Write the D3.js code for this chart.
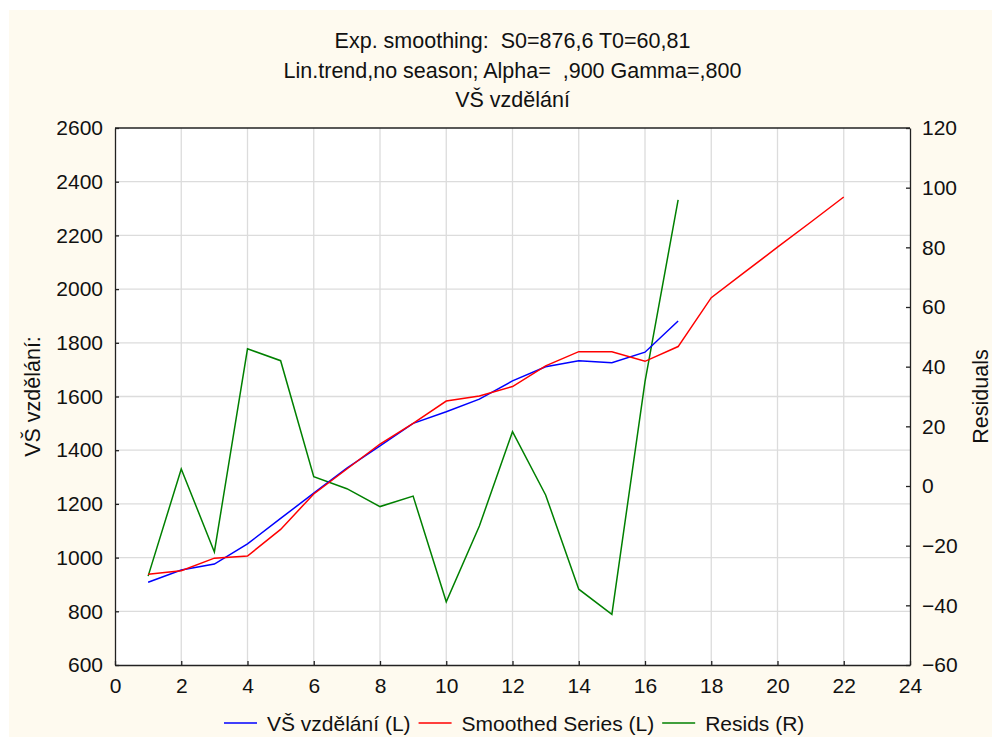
<!DOCTYPE html>
<html>
<head>
<meta charset="utf-8">
<script src="https://cdn.jsdelivr.net/npm/d3@7"></script>
<style>
  html, body { margin: 0; padding: 0; background: #fff; }
  svg { display: block; }
  text { font-family: "Liberation Sans", Arial, sans-serif; fill: #111; white-space: pre; }
</style>
</head>
<body>
<svg id="chart" width="992" height="737"></svg>
<script>
// time index
const xs = d3.range(1, 23);
// VŠ vzdělání (observed), t = 1..17
const observed = [908, 954, 976, 1051, 1146, 1240, 1333, 1416, 1500, 1543, 1590, 1658, 1711, 1733, 1726, 1765, 1881];
// smoothed series, t = 1..22 (forecast beyond 17)
const smoothed = [938, 951, 998, 1006, 1105, 1237, 1330, 1423, 1500, 1583, 1602, 1637, 1714, 1767, 1767, 1731, 1786,
  1968, 2062, 2156, 2249, 2343];
// residuals (right axis), t = 1..17
const resids = [-30.2, 5.7, -22.1, 46.0, 42.0, 3.1, -0.9, -6.9, -3.4, -38.8, -13.4, 18.2, -3.0, -34.6, -43.0, 35.0, 95.9];

const xTicks = d3.range(0, 25, 2);
const leftTicks = d3.range(600, 2601, 200);
const rightTicks = d3.range(-60, 121, 20);

const titleLines = ['Exp. smoothing:  S0=876,6 T0=60,81', 'Lin.trend,no season; Alpha=  ,900 Gamma=,800', 'VŠ vzdělání'];
const legendItems = [
  { label: 'VŠ vzdělání (L)', color: '#0000ff' },
  { label: 'Smoothed Series (L)', color: '#ff0000' },
  { label: 'Resids (R)', color: '#008000' }
];

const svg = d3.select('#chart');
const margin = { left: 115, right: 82, top: 128, bottom: 72 },
  width = 992 - margin.left - margin.right,
  height = 737 - margin.top - margin.bottom;

// cream panel
svg.append('rect').attr('x', 9).attr('y', 10).attr('width', 983).attr('height', 727).attr('fill', '#fefaef');

const x = d3.scaleLinear().domain([0, 24]).range([0, width]);
const yL = d3.scaleLinear().domain([600, 2600]).range([height, 0]);
const yR = d3.scaleLinear().domain([-60, 120]).range([height, 0]);

const g = svg.append('g').attr('transform', `translate(${margin.left},${margin.top})`);
g.append('rect').attr('width', width).attr('height', height).attr('fill', '#fff');

// grid
g.append('g')
  .selectAll('line')
  .data(xTicks.slice(1, -1))
  .join('line')
  .attr('x1', d => x(d)).attr('x2', d => x(d))
  .attr('y1', 0).attr('y2', height)
  .attr('stroke', '#dcdcdc').attr('stroke-width', 1.3);
g.append('g')
  .selectAll('line')
  .data(leftTicks.slice(1, -1))
  .join('line')
  .attr('y1', d => yL(d)).attr('y2', d => yL(d))
  .attr('x1', 0).attr('x2', width)
  .attr('stroke', '#dcdcdc').attr('stroke-width', 1.3);

// axes (ticks inside)
const styleAxis = sel => {
  sel.select('.domain').attr('stroke', '#222').attr('stroke-width', 1.3);
  sel.selectAll('.tick line').attr('stroke', '#222').attr('stroke-width', 1.3);
  sel.selectAll('.tick text').style('font-size', '21px').attr('fill', '#111');
};
g.append('g')
  .attr('transform', `translate(0,${height})`)
  .call(d3.axisBottom(x).tickValues(xTicks).tickFormat(d3.format('d')).tickSizeInner(-4).tickSizeOuter(0).tickPadding(13))
  .call(styleAxis);
g.append('g')
  .call(d3.axisLeft(yL).tickValues(leftTicks).tickFormat(d3.format('d')).tickSizeInner(-4).tickSizeOuter(0).tickPadding(12))
  .call(styleAxis);
g.append('g')
  .attr('transform', `translate(${width},0)`)
  .call(d3.axisRight(yR).tickValues(rightTicks).tickFormat(d3.format('d')).tickSizeInner(-4).tickSizeOuter(0).tickPadding(12))
  .call(styleAxis);
g.append('line').attr('x1', 0).attr('x2', width).attr('y1', 0).attr('y2', 0)
  .attr('stroke', '#222').attr('stroke-width', 1.3);

// lines
const lineL = d3.line().x((d, i) => x(xs[i])).y(d => yL(d));
const lineR = d3.line().x((d, i) => x(xs[i])).y(d => yR(d));
g.append('path').datum(resids).attr('d', lineR).attr('fill', 'none').attr('stroke', '#008000').attr('stroke-width', 1.5);
g.append('path').datum(observed).attr('d', lineL).attr('fill', 'none').attr('stroke', '#0000ff').attr('stroke-width', 1.5);
g.append('path').datum(smoothed).attr('d', lineL).attr('fill', 'none').attr('stroke', '#ff0000').attr('stroke-width', 1.5);

// titles
svg.append('g').selectAll('text')
  .data(titleLines)
  .join('text')
  .attr('x', margin.left + width / 2)
  .attr('y', (d, i) => 48 + i * 29.5)
  .attr('text-anchor', 'middle')
  .style('font-size', '21.5px')
  .text(d => d);

// axis titles
svg.append('text')
  .attr('transform', `translate(40,${margin.top + height / 2}) rotate(-90)`)
  .attr('text-anchor', 'middle')
  .style('font-size', '21.5px')
  .text('VŠ vzdělání:');
svg.append('text')
  .attr('transform', `translate(988,${margin.top + height / 2}) rotate(-90)`)
  .attr('text-anchor', 'middle')
  .style('font-size', '21.5px')
  .text('Residuals');

// legend
const leg = svg.append('g').attr('transform', 'translate(224,723)');
let lx = 0;
legendItems.forEach(item => {
  const it = leg.append('g').attr('transform', `translate(${lx},0)`);
  it.append('line').attr('x1', 0).attr('x2', 33).attr('stroke', item.color).attr('stroke-width', 1.5);
  const t = it.append('text').attr('x', 43).attr('y', 7.5).style('font-size', '21px').text(item.label);
  lx += 43 + t.node().getComputedTextLength() + 8;
});
</script>
</body>
</html>
